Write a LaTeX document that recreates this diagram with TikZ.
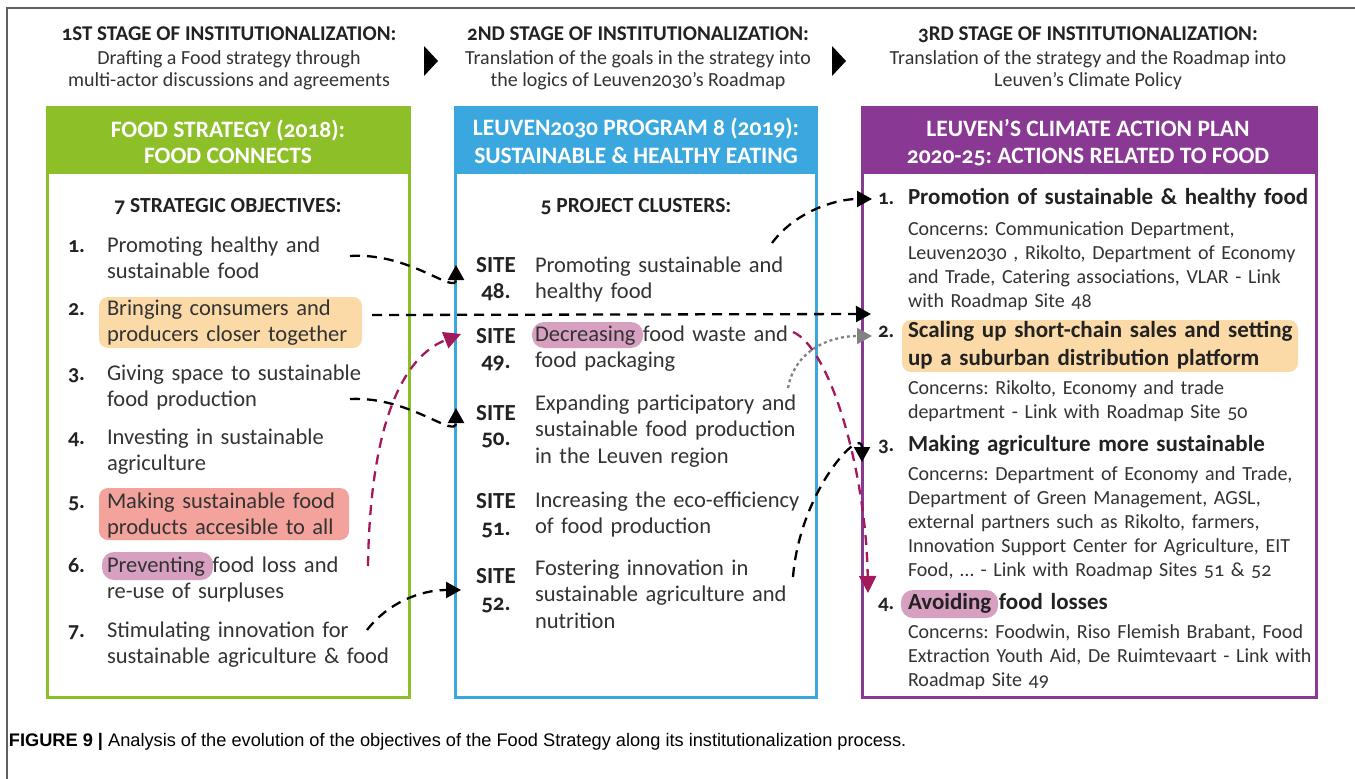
\documentclass[tikz,border=0pt]{standalone}
\usepackage{fontspec}
\setmainfont{Carlito}[Numbers=OldStyle]
\newfontfamily\capfont{Liberation Sans}
\usetikzlibrary{arrows.meta}
\frenchspacing
\definecolor{fgreen}{RGB}{141,192,40}
\definecolor{fblue}{RGB}{58,167,222}
\definecolor{fpurple}{RGB}{137,56,148}
\definecolor{hlorange}{RGB}{251,218,168}
\definecolor{hlsalmon}{RGB}{243,163,155}
\definecolor{hlpink}{RGB}{215,160,193}
\definecolor{fmag}{RGB}{163,25,92}
\definecolor{txt}{RGB}{51,51,51}
\definecolor{ttl}{RGB}{34,34,34}
\definecolor{framegray}{RGB}{95,95,95}
\definecolor{dotgray}{RGB}{130,130,130}
\tikzset{
  every node/.style={inner sep=0pt, outer sep=0pt, text=txt},
  stitle/.style={anchor=base, text=ttl, font=\bfseries\fontsize{21}{24}\selectfont},
  ssub/.style={anchor=base, text=txt, font=\fontsize{20}{22}\selectfont},
  hdr/.style={anchor=base, text=white, font=\bfseries\fontsize{23.5}{27}\selectfont},
  boxsub/.style={anchor=base, text=ttl, font=\bfseries\fontsize{21.5}{25}\selectfont},
  num/.style={anchor=base west, text=ttl, font=\bfseries\fontsize{22}{26}\selectfont},
  body/.style={anchor=base west, align=left, text width=400pt, font=\fontsize{22.5}{26.5}\selectfont},
  sitelbl/.style={anchor=base, text=ttl, font=\bfseries\fontsize{23}{26}\selectfont},
  rnum/.style={anchor=base west, text=ttl, font=\bfseries\fontsize{21}{26}\selectfont},
  rbold/.style={anchor=base west, align=left, text width=420pt, text=ttl, font=\bfseries\fontsize{23}{28}\selectfont},
  conc/.style={anchor=base west, align=left, text width=420pt, font=\fontsize{20}{24.2}\selectfont},
  boxline/.style={line width=3pt},
  hl/.style={rounded corners=9pt},
  dconn/.style={line width=2.3pt, dash pattern=on 10pt off 7pt, -{Triangle[length=15pt,width=16pt]}},
  mconn/.style={line width=2.3pt, fmag, dash pattern=on 10pt off 7pt, -{Triangle[length=17pt,width=17pt]}},
  gconn/.style={line width=2.3pt, dotgray, dash pattern=on 3pt off 3pt, -{Triangle[length=15pt,width=16pt]}},
}
\begin{document}
\begin{tikzpicture}[x=1pt,y=-1pt]
\useasboundingbox (0,0) rectangle (1355,779);
\fill[white] (0,0) rectangle (1355,779);
\draw[framegray, line width=1.5pt] (7,779) -- (7,8) -- (1355,8);

% stage headers
\node[stitle] (s1t) at (229,40) {1ST STAGE OF INSTITUTIONALIZATION:};
\node[ssub] (s1a) at (229,64) {Drafting a Food strategy through};
\node[ssub] (s1b) at (229,86) {multi-actor discussions and agreements};
\node[stitle] (s2t) at (638,40) {2ND STAGE OF INSTITUTIONALIZATION:};
\node[ssub] (s2a) at (638,64) {Translation of the goals in the strategy into};
\node[ssub] (s2b) at (638,86) {the logics of Leuven2030’s Roadmap};
\node[stitle] (s3t) at (1088,40) {3RD STAGE OF INSTITUTIONALIZATION:};
\node[ssub] (s3a) at (1088,64) {Translation of the strategy and the Roadmap into};
\node[ssub] (s3b) at (1088,86) {Leuven’s Climate Policy};
\fill[black] (424,46) -- (438,61) -- (424,76) -- cycle;
\fill[black] (832,46) -- (846,61) -- (832,76) -- cycle;

% boxes
\fill[fgreen] (47,107) rectangle (409,174);
\draw[fgreen, boxline] (47,107) rectangle (409,697);
\fill[fblue] (455,107) rectangle (816,174);
\draw[fblue, boxline] (455,107) rectangle (816,697);
\fill[fpurple] (862,107) rectangle (1316,174);
\draw[fpurple, boxline] (862,107) rectangle (1316,697);

% highlights
\fill[hlorange, hl] (99,297) rectangle (362,348);
\fill[hlsalmon, hl] (99,488) rectangle (349,540);
\fill[hlpink, rounded corners=12pt] (102,552) rectangle (213,580);
\fill[hlpink, rounded corners=12pt] (532,322) rectangle (643,348);
\fill[hlorange, hl] (902,320) rectangle (1298,372);
\fill[hlpink, rounded corners=12pt] (901,590) rectangle (998,618);

% left box
\node[hdr] (lh1) at (228,137) {FOOD STRATEGY (2018):};
\node[hdr] (lh2) at (228,163) {FOOD CONNECTS};
\node[boxsub] (lsub) at (228,212) {7 STRATEGIC OBJECTIVES:};
\node[num] (ln1) at (68,252) {1.};
\node[body] (lo1) at (107,252) {Promoting healthy and\\sustainable food};
\node[num] (ln2) at (68,315) {2.};
\node[body] (lo2) at (107,315) {Bringing consumers and\\producers closer together};
\node[num] (ln3) at (68,380) {3.};
\node[body] (lo3) at (107,380) {Giving space to sustainable\\food production};
\node[num] (ln4) at (68,444) {4.};
\node[body] (lo4) at (107,444) {Investing in sustainable\\agriculture};
\node[num] (ln5) at (68,508) {5.};
\node[body] (lo5) at (107,508) {Making sustainable food\\products accesible to all};
\node[num] (ln6) at (68,572) {6.};
\node[body] (lo6) at (107,572) {Preventing food loss and\\re-use of surpluses};
\node[num] (ln7) at (68,637) {7.};
\node[body] (lo7) at (107,637) {Stimulating innovation for\\sustainable agriculture \& food};

% middle box
\node[hdr] (mh1) at (636,135) {LEUVEN2030 PROGRAM 8 (2019):};
\node[hdr] (mh2) at (636,163) {SUSTAINABLE \& HEALTHY EATING};
\node[boxsub] (msub) at (636,212) {5 PROJECT CLUSTERS:};
\node[sitelbl] (ms48) at (496,272) {SITE};
\node[sitelbl] (mn48) at (496,298) {48.};
\node[body] (mt48) at (535,272) {Promoting sustainable and\\healthy food};
\node[sitelbl] (ms49) at (496,343) {SITE};
\node[sitelbl] (mn49) at (496,368) {49.};
\node[body] (mt49) at (535,341) {Decreasing food waste and\\food packaging};
\node[sitelbl] (ms50) at (496,420) {SITE};
\node[sitelbl] (mn50) at (496,445) {50.};
\node[body] (mt50) at (535,410) {Expanding participatory and\\sustainable food production\\in the Leuven region};
\node[sitelbl] (ms51) at (496,508) {SITE};
\node[sitelbl] (mn51) at (496,535) {51.};
\node[body] (mt51) at (535,507) {Increasing the eco-efficiency\\of food production};
\node[sitelbl] (ms52) at (496,583) {SITE};
\node[sitelbl] (mn52) at (496,610) {52.};
\node[body] (mt52) at (535,575) {Fostering innovation in\\sustainable agriculture and\\nutrition};

% right box
\node[hdr] (rh1) at (1088,136) {LEUVEN’S CLIMATE ACTION PLAN};
\node[hdr] (rh2) at (1088,163) {2020-25: ACTIONS RELATED TO FOOD};
\node[rnum] (rn1) at (878,204) {1.};
\node[rbold] (ra1) at (908,204) {Promotion of sustainable \& healthy food};
\node[conc] (rc1) at (908,235) {Concerns: Communication Department,\\Leuven2030 , Rikolto, Department of Economy\\and Trade, Catering associations, VLAR - Link\\with Roadmap Site 48};
\node[rnum] (rn2) at (878,337) {2.};
\node[rbold] (ra2) at (908,337) {Scaling up short-chain sales and setting\\up a suburban distribution platform};
\node[conc] (rc2) at (908,394) {Concerns: Rikolto, Economy and trade\\department - Link with Roadmap Site 50};
\node[rnum] (rn3) at (878,451) {3.};
\node[rbold] (ra3) at (908,451) {Making agriculture more sustainable};
\node[conc] (rc3) at (908,480) {Concerns: Department of Economy and Trade,\\Department of Green Management, AGSL,\\external partners such as Rikolto, farmers,\\Innovation Support Center for Agriculture, EIT\\Food, … - Link with Roadmap Sites 51 \& 52};
\node[rnum] (rn4) at (878,609) {4.};
\node[rbold] (ra4) at (908,609) {Avoiding food losses};
\node[conc] (rc4) at (908,638) {Concerns: Foodwin, Riso Flemish Brabant, Food\\Extraction Youth Aid, De Ruimtevaart - Link with\\Roadmap Site 49};

% connector end points
\coordinate (c1s) at (350,256);
\coordinate (c1e) at (456,265);
\coordinate (c2s) at (372,315);
\coordinate (c2e) at (871,314);
\coordinate (c3s) at (350,399);
\coordinate (c3e) at (456,408);
\coordinate (c6s) at (368,566);
\coordinate (c6e) at (461,334);
\coordinate (c7s) at (367,630);
\coordinate (c7e) at (461,590);
\coordinate (d1s) at (772,243);
\coordinate (d1e) at (872,199);
\coordinate (d2s) at (788,388);
\coordinate (d2e) at (872,336);
\coordinate (d3s) at (793,577);
\coordinate (d3e) at (862,462);
\coordinate (d4s) at (793,332);
\coordinate (d4e) at (868,593);

\draw[dconn] (c1s) .. controls (410,252) and (456,296) .. (c1e);
\draw[dconn] (c2s) -- (c2e);
\draw[dconn] (c3s) .. controls (410,396) and (456,440) .. (c3e);
\draw[mconn] (c6s) .. controls (370,430) and (400,358) .. (c6e);
\draw[dconn] (c7s) .. controls (388,603) and (420,590) .. (c7e);
\draw[dconn] (d1s) .. controls (795,212) and (835,199) .. (d1e);
\draw[gconn] (d2s) .. controls (795,350) and (830,336) .. (d2e);
\draw[dconn] (d3s) .. controls (800,490) and (862,425) .. (d3e);
\draw[mconn] (d4s) .. controls (830,348) and (866,470) .. (d4e);

% caption
\node[anchor=base west, text=black, font=\capfont\fontsize{18.2}{21}\selectfont] (cap) at (9,746) {\textbf{FIGURE 9 |} Analysis of the evolution of the objectives of the Food Strategy along its institutionalization process.};
\end{tikzpicture}
\end{document}
